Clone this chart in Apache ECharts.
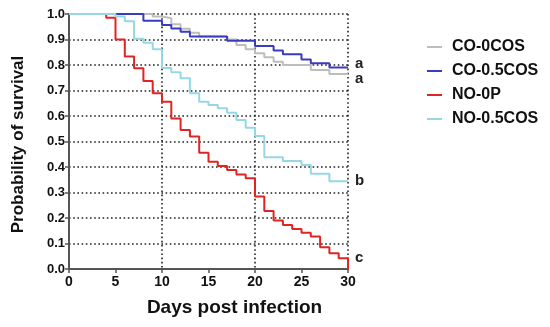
<!DOCTYPE html>
<html><head><meta charset="utf-8">
<script src="https://cdn.jsdelivr.net/npm/echarts@6/dist/echarts.min.js"></script>
<style>html,body{margin:0;padding:0;background:#fff}#c{width:550px;height:327px}</style>
</head><body><div id="c"></div>
<script>
var days = [0,1,2,3,4,5,6,7,8,9,10,11,12,13,14,15,16,17,18,19,20,21,22,23,24,25,26,27,28,29,30];
var seriesNames = ['CO-0COS','CO-0.5COS','NO-0P','NO-0.5COS'];
var endLetters = ['a','a','c','b'];
var co0cos = [1,1,1,1,1,1,1,1,1,0.99,0.983,0.96,0.942,0.926,0.912,0.912,0.912,0.9,0.878,0.862,0.846,0.83,0.813,0.8,0.8,0.8,0.78,0.78,0.765,0.765,0.765];
var co05cos = [1,1,1,1,1,1,1,1,0.974,0.974,0.957,0.943,0.93,0.912,0.912,0.912,0.912,0.895,0.895,0.895,0.875,0.875,0.857,0.842,0.842,0.822,0.807,0.807,0.79,0.79,0.79];
var no0p = [1,1,1,1,0.985,0.9,0.833,0.787,0.737,0.689,0.656,0.59,0.545,0.52,0.456,0.421,0.404,0.388,0.371,0.356,0.284,0.227,0.19,0.173,0.157,0.142,0.127,0.085,0.062,0.042,0];
var no05cos = [1,1,1,1,1,0.99,0.972,0.903,0.887,0.862,0.788,0.772,0.748,0.689,0.656,0.643,0.63,0.613,0.584,0.554,0.522,0.438,0.438,0.424,0.424,0.408,0.374,0.374,0.344,0.344,0.344];
var xTicks = [0,5,10,15,20,25,30];
var yTicks = [0,0.1,0.2,0.3,0.4,0.5,0.6,0.7,0.8,0.9,1.0];

var allValues = [co0cos, co05cos, no0p, no05cos];
var colors = ['#bdbdbd','#3b3bbf','#e02424','#96d7e6'];
var labelOffsets = [[0,5],[0,-4],[0,-11],[0,0]];
var font = 'Arial, "Liberation Sans", sans-serif';

var chart = echarts.init(document.getElementById('c'), null, {renderer:'canvas'});
var series = seriesNames.map(function(n, i){
  return {
    name: n, type: 'line', step: 'end', showSymbol: false, symbol: 'none',
    data: days.map(function(d, k){ return [d, allValues[i][k]]; }),
    lineStyle: {color: colors[i], width: 2},
    itemStyle: {color: colors[i]},
    endLabel: {show: true, formatter: endLetters[i], color: '#222', fontWeight: 'bold', fontSize: 15, fontFamily: font, distance: 7, offset: labelOffsets[i]},
    emphasis: {disabled: true},
    animation: false
  };
});

chart.setOption({
  animation: false,
  backgroundColor: '#fff',
  grid: {left: 69, right: 202, top: 14, bottom: 58, containLabel: false},
  legend: {
    orient: 'vertical', left: 427, top: 39, padding: 0, itemWidth: 15, itemHeight: 2, itemGap: 8,
    icon: 'rect',
    data: seriesNames,
    textStyle: {fontFamily: font, fontWeight: 'bold', fontSize: 16, color: '#111', padding: [0,0,0,5]}
  },
  xAxis: [{
    type: 'value', min: 0, max: 30, interval: 5,
    name: 'Days post infection', nameLocation: 'middle', nameGap: 29,
    nameTextStyle: {fontFamily: font, fontWeight: 'bold', fontSize: 19, color: '#111', padding: [0,0,0,52]},
    axisLine: {show: true, lineStyle: {color: '#555', width: 2}},
    axisTick: {show: true, length: 4, lineStyle: {color: '#555', width: 1.5}},
    axisLabel: {fontFamily: font, fontWeight: 'bold', fontSize: 14, color: '#111', margin: 6,
      formatter: function(v){ return xTicks.indexOf(v) >= 0 ? String(v) : ''; }},
    splitLine: {show: false}
  },{
    type: 'value', min: 0, max: 30, interval: 10, position: 'bottom',
    axisLine: {show: false}, axisTick: {show: false}, axisLabel: {show: false},
    splitLine: {show: true, lineStyle: {color: '#222', width: 1.6, type: [1.6, 2.6]}}
  }],
  yAxis: {
    type: 'value', min: 0, max: 1, interval: 0.1,
    name: 'Probability of survival', nameLocation: 'middle', nameGap: 42,
    nameTextStyle: {fontFamily: font, fontWeight: 'bold', fontSize: 17, color: '#111', padding: [0,6,0,0]},
    axisLine: {show: true, lineStyle: {color: '#555', width: 2}},
    axisTick: {show: true, length: 4, lineStyle: {color: '#555', width: 1.5}},
    axisLabel: {fontFamily: font, fontWeight: 'bold', fontSize: 13, color: '#111', margin: 4,
      formatter: function(v){ return yTicks.some(function(t){return Math.abs(t-v)<1e-6;}) ? v.toFixed(1) : ''; }},
    splitLine: {show: true, lineStyle: {color: '#222', width: 1.6, type: [1.6, 2.6]}}
  },
  series: series
});
</script></body></html>
